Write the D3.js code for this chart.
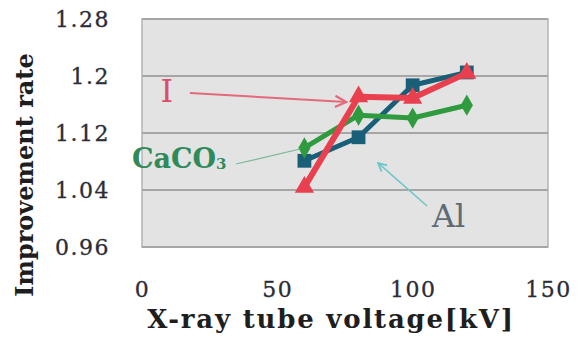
<!DOCTYPE html>
<html>
<head>
<meta charset="utf-8">
<script src="https://cdn.jsdelivr.net/npm/d3@7"></script>
<style>
  html, body { margin: 0; padding: 0; background: #ffffff; }
  svg { display: block; }
</style>
</head>
<body>
<svg id="chart" width="586" height="342"></svg>
<script>
// X-ray tube voltage [kV] at each measurement
const voltages = [60, 80, 100, 120];

// Improvement rate for each contrast material
const alValues    = [1.081, 1.114, 1.187, 1.205];
const caco3Values = [1.099, 1.145, 1.141, 1.159];
const iodineValues = [1.044, 1.171, 1.169, 1.204];

// Axis ticks
const xTicks = [0, 50, 100, 150];
const yTicks = [0.96, 1.04, 1.12, 1.2, 1.28];

const svg = d3.select("#chart");
const serif = "'DejaVu Serif', 'Liberation Serif', serif";

const x = d3.scaleLinear().domain([0, 150]).range([142, 548]);
const y = d3.scaleLinear().domain([0.96, 1.28]).range([247, 19]);

// Plot area
svg.append("rect")
  .attr("x", x(0)).attr("y", y(1.28))
  .attr("width", x(150) - x(0)).attr("height", y(0.96) - y(1.28))
  .attr("fill", "#e3e3e3")
  .attr("stroke", "#b4b4b4").attr("stroke-width", 1.5);

// Horizontal gridlines
svg.append("g").selectAll("line").data(yTicks).join("line")
  .attr("x1", x(0)).attr("x2", x(150))
  .attr("y1", d => y(d)).attr("y2", d => y(d))
  .attr("stroke", "#a6a6a6").attr("stroke-width", 2);

// Y axis labels
const yAxis = d3.axisLeft(y).tickValues(yTicks).tickSize(0).tickPadding(0)
  .tickFormat(d => d === 1.2 ? "1.2" : d3.format(".2f")(d));
svg.append("g").attr("transform", "translate(110,0)").call(yAxis)
  .call(g => g.select(".domain").remove())
  .call(g => g.selectAll("text")
    .attr("font-family", serif).attr("font-size", 22)
    .attr("letter-spacing", 1.5).attr("fill", "#2c2c36")
    .attr("stroke", "#2c2c36").attr("stroke-width", 0.3)
    .attr("dy", "0.36em"));

// X axis labels
const xAxis = d3.axisBottom(x).tickValues(xTicks).tickSize(0).tickPadding(0)
  .tickFormat(d3.format("d"));
svg.append("g").attr("transform", "translate(0,282)").call(xAxis)
  .call(g => g.select(".domain").remove())
  .call(g => g.selectAll("text")
    .attr("font-family", serif).attr("font-size", 22)
    .attr("letter-spacing", 1.5).attr("fill", "#2c2c36")
    .attr("stroke", "#2c2c36").attr("stroke-width", 0.3)
    .attr("dy", "0.7em"));

// Axis titles
svg.append("text")
  .attr("transform", "translate(33,175) rotate(-90)")
  .attr("text-anchor", "middle")
  .attr("font-family", serif).attr("font-weight", "bold")
  .attr("font-size", 24).attr("fill", "#1e1e1e")
  .text("Improvement rate");

svg.append("text")
  .attr("x", 331).attr("y", 328)
  .attr("text-anchor", "middle")
  .attr("font-family", serif).attr("font-weight", "bold")
  .attr("font-size", 26).attr("letter-spacing", 1.8).attr("fill", "#1e1e1e")
  .text("X-ray tube voltage[kV]");

// Data series
const series = [
  { name: "Al",    values: alValues,    color: "#1a5f78", width: 5, shape: d3.symbolSquare,   size: 190 },
  { name: "CaCO3", values: caco3Values, color: "#2f9a3e", width: 5, shape: d3.symbolDiamond,  size: 130 },
  { name: "I",     values: iodineValues, color: "#e8404e", width: 6, shape: d3.symbolTriangle, size: 160 }
];

const line = d3.line().x(d => x(d[0])).y(d => y(d[1]));

series.forEach(s => {
  const pts = voltages.map((v, i) => [v, s.values[i]]);
  const g = svg.append("g");
  g.append("path").attr("d", line(pts))
    .attr("fill", "none").attr("stroke", s.color)
    .attr("stroke-width", s.width).attr("stroke-linejoin", "round");
  g.selectAll("path.mark").data(pts).join("path")
    .attr("class", "mark")
    .attr("transform", d => `translate(${x(d[0])},${y(d[1])})`)
    .attr("d", d3.symbol().type(s.shape).size(s.size))
    .attr("fill", s.color);
});

// Callout labels with leader arrows
const defs = svg.append("defs");
function arrowMarker(id, color) {
  defs.append("marker").attr("id", id)
    .attr("viewBox", "0 0 10 10").attr("refX", 9).attr("refY", 5)
    .attr("markerWidth", 7).attr("markerHeight", 7).attr("orient", "auto")
    .append("path").attr("d", "M1,1 L9,5 L1,9")
    .attr("fill", "none").attr("stroke", color).attr("stroke-width", 1.6);
}
arrowMarker("arrowI", "#e36a7c");
arrowMarker("arrowAl", "#6cc6c8");

// I label
svg.append("text")
  .attr("x", x(9.2)).attr("y", y(1.1635))
  .attr("text-anchor", "middle")
  .attr("font-family", serif).attr("font-size", 32).attr("fill", "#d9506a")
  .text("I");
svg.append("line")
  .attr("x1", x(17.7)).attr("y1", y(1.176))
  .attr("x2", x(75.5)).attr("y2", y(1.1635))
  .attr("stroke", "#e36a7c").attr("stroke-width", 2)
  .attr("marker-end", "url(#arrowI)");

// CaCO3 label
const ca = svg.append("text")
  .attr("x", x(-3.7)).attr("y", y(1.071))
  .attr("font-family", serif).attr("font-weight", "bold")
  .attr("font-size", 27).attr("fill", "#2f8a5a");
ca.append("tspan").text("CaCO");
ca.append("tspan").attr("font-size", 15).attr("dy", 1).text("3");
svg.append("line")
  .attr("x1", x(34.7)).attr("y1", y(1.0765))
  .attr("x2", x(58.4)).attr("y2", y(1.0975))
  .attr("stroke", "#79b898").attr("stroke-width", 1.2);

// Al label
svg.append("text")
  .attr("x", x(107.1)).attr("y", y(0.988))
  .attr("font-family", serif).attr("font-size", 32).attr("fill", "#5f6b73")
  .text("Al");
svg.append("line")
  .attr("x1", x(105.3)).attr("y1", y(1.0175))
  .attr("x2", x(87.2)).attr("y2", y(1.078))
  .attr("stroke", "#6cc6c8").attr("stroke-width", 1.5)
  .attr("marker-end", "url(#arrowAl)");
</script>
</body>
</html>
